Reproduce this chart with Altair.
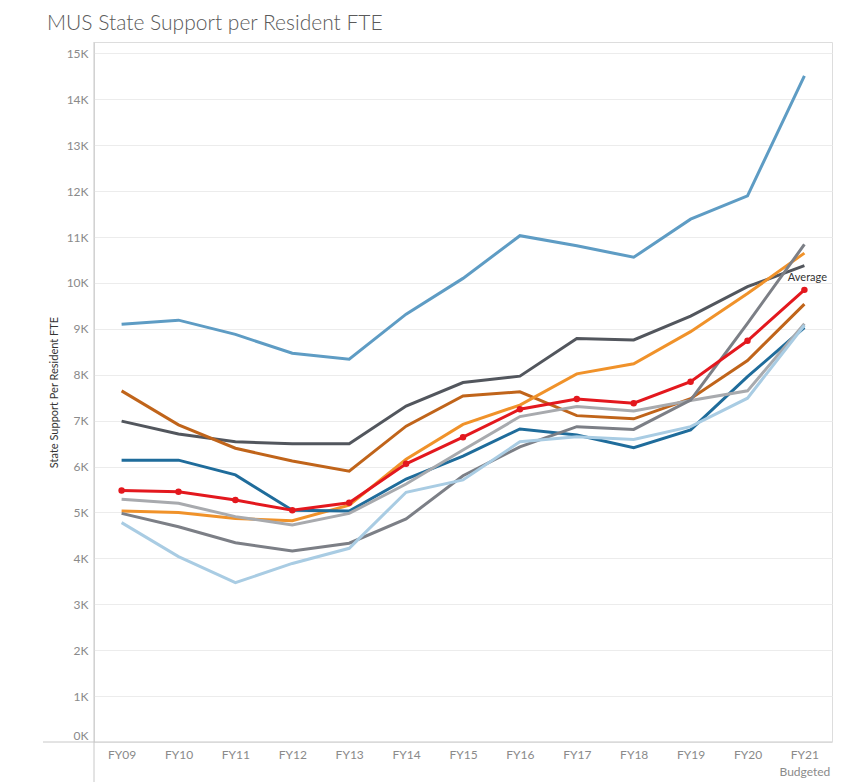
import altair as alt
import pandas as pd

years = ["FY09", "FY10", "FY11", "FY12", "FY13", "FY14", "FY15",
         "FY16", "FY17", "FY18", "FY19", "FY20", "FY21"]

series_names = ["Campus A", "Campus B", "Campus C", "Campus D", "Campus E",
                "Campus F", "Campus G", "Campus H", "Average"]

campus_a = [9100, 9190, 8880, 8470, 8340, 9320, 10100, 11030, 10810, 10560, 11390, 11900, 14510]
campus_b = [6990, 6710, 6540, 6500, 6500, 7320, 7830, 7970, 8790, 8760, 9280, 9920, 10380]
campus_c = [7650, 6910, 6400, 6120, 5900, 6880, 7540, 7630, 7110, 7040, 7480, 8310, 9540]
campus_d = [5030, 5000, 4870, 4820, 5160, 6160, 6920, 7340, 8020, 8240, 8940, 9770, 10650]
campus_e = [6140, 6140, 5820, 5050, 5030, 5730, 6230, 6820, 6690, 6410, 6800, 7960, 9030]
campus_f = [5290, 5200, 4910, 4730, 4980, 5620, 6360, 7090, 7310, 7210, 7440, 7650, 9110]
campus_g = [4980, 4690, 4340, 4160, 4330, 4860, 5800, 6430, 6870, 6810, 7450, 9120, 10840]
campus_h = [4780, 4040, 3470, 3890, 4220, 5440, 5710, 6540, 6650, 6590, 6870, 7490, 9080]
average = [5480, 5450, 5270, 5050, 5210, 6060, 6640, 7250, 7470, 7380, 7850, 8740, 9850]

series_values = [campus_a, campus_b, campus_c, campus_d, campus_e,
                 campus_f, campus_g, campus_h, average]

series_colors = ["#5e9cc4", "#52565d", "#c0641a", "#f0922a", "#1f6c9b",
                 "#a8aaae", "#7c7f86", "#a9cce3", "#e3181e"]

y_ticks = list(range(0, 16000, 1000))

rows = []
for order, (name, vals) in enumerate(zip(series_names, series_values)):
    for yr, v in zip(years, vals):
        rows.append({"year": yr, "value": v, "series": name, "order": order})
df = pd.DataFrame(rows)

FONT = "Lato"

x_enc = alt.X(
    "year:O",
    sort=years,
    scale=alt.Scale(type="point", padding=0.485),
    axis=alt.Axis(
        title=None, labelAngle=0, ticks=False, domain=False, grid=False,
        labelColor="#8a8a8a", labelFontSize=12, labelFont=FONT, labelPadding=7,
        labelLineHeight=17,
        labelExpr="datum.value == 'FY21' ? ['FY21', 'Budgeted'] : datum.value",
    ),
)
y_enc = alt.Y(
    "value:Q",
    scale=alt.Scale(domain=[0, 15250], nice=False, zero=True),
    axis=alt.Axis(
        values=y_ticks, labelExpr="(datum.value / 1000) + 'K'",
        title="State Support Per Resident FTE", titleFontSize=11,
        titleFont=FONT, titleFontWeight="normal", titleColor="#333333",
        titlePadding=7, labelColor="#8a8a8a", labelFontSize=12, labelFont=FONT,
        labelPadding=6, ticks=False, domain=False, grid=True,
        gridColor="#ececec", gridWidth=1, labelFlush=True,
    ),
)

base = alt.Chart(df).encode(x=x_enc, y=y_enc)

lines = base.mark_line(strokeWidth=3, clip=False).encode(
    color=alt.Color("series:N", sort=series_names,
                    scale=alt.Scale(domain=series_names, range=series_colors),
                    legend=None),
    order=alt.Order("order:Q"),
    detail="series:N",
)

avg_df = df[df["series"] == "Average"]
points = alt.Chart(avg_df).mark_circle(size=42, opacity=1, color="#e3181e").encode(
    x=alt.X("year:O", sort=years), y="value:Q"
)

label = alt.Chart(avg_df[avg_df["year"] == "FY21"]).mark_text(
    text="Average", dy=-12, dx=3, fontSize=11, font=FONT, color="#333333",
    align="center"
).encode(x=alt.X("year:O", sort=years), y="value:Q")

# axis lines that run past the plot in the original
bottom_line = alt.Chart(pd.DataFrame({"k": [0]})).mark_rule(
    color="#c8c8c8", strokeWidth=1, clip=False
).encode(x=alt.value(-51), x2=alt.value(738), y=alt.value(700))
left_line = alt.Chart(pd.DataFrame({"k": [0]})).mark_rule(
    color="#c8c8c8", strokeWidth=1, clip=False
).encode(x=alt.value(0), y=alt.value(0), y2=alt.value(740))

chart = alt.layer(bottom_line, left_line, lines, points, label).properties(
    width=738,
    height=700,
    padding={"left": 86, "top": 34, "right": 4, "bottom": 40},
    autosize=alt.AutoSizeParams(type="none"),
    title=alt.TitleParams(
        "MUS State Support per Resident FTE", anchor="start", frame="group",
        dx=-47, fontSize=21, font=FONT, fontWeight=300, color="#5a5a5a",
        offset=8,
    ),
).configure_view(stroke="#d4d4d4", strokeWidth=1).configure(background="white")

chart.save("out.html", embed_options={"renderer": "svg", "actions": False})
